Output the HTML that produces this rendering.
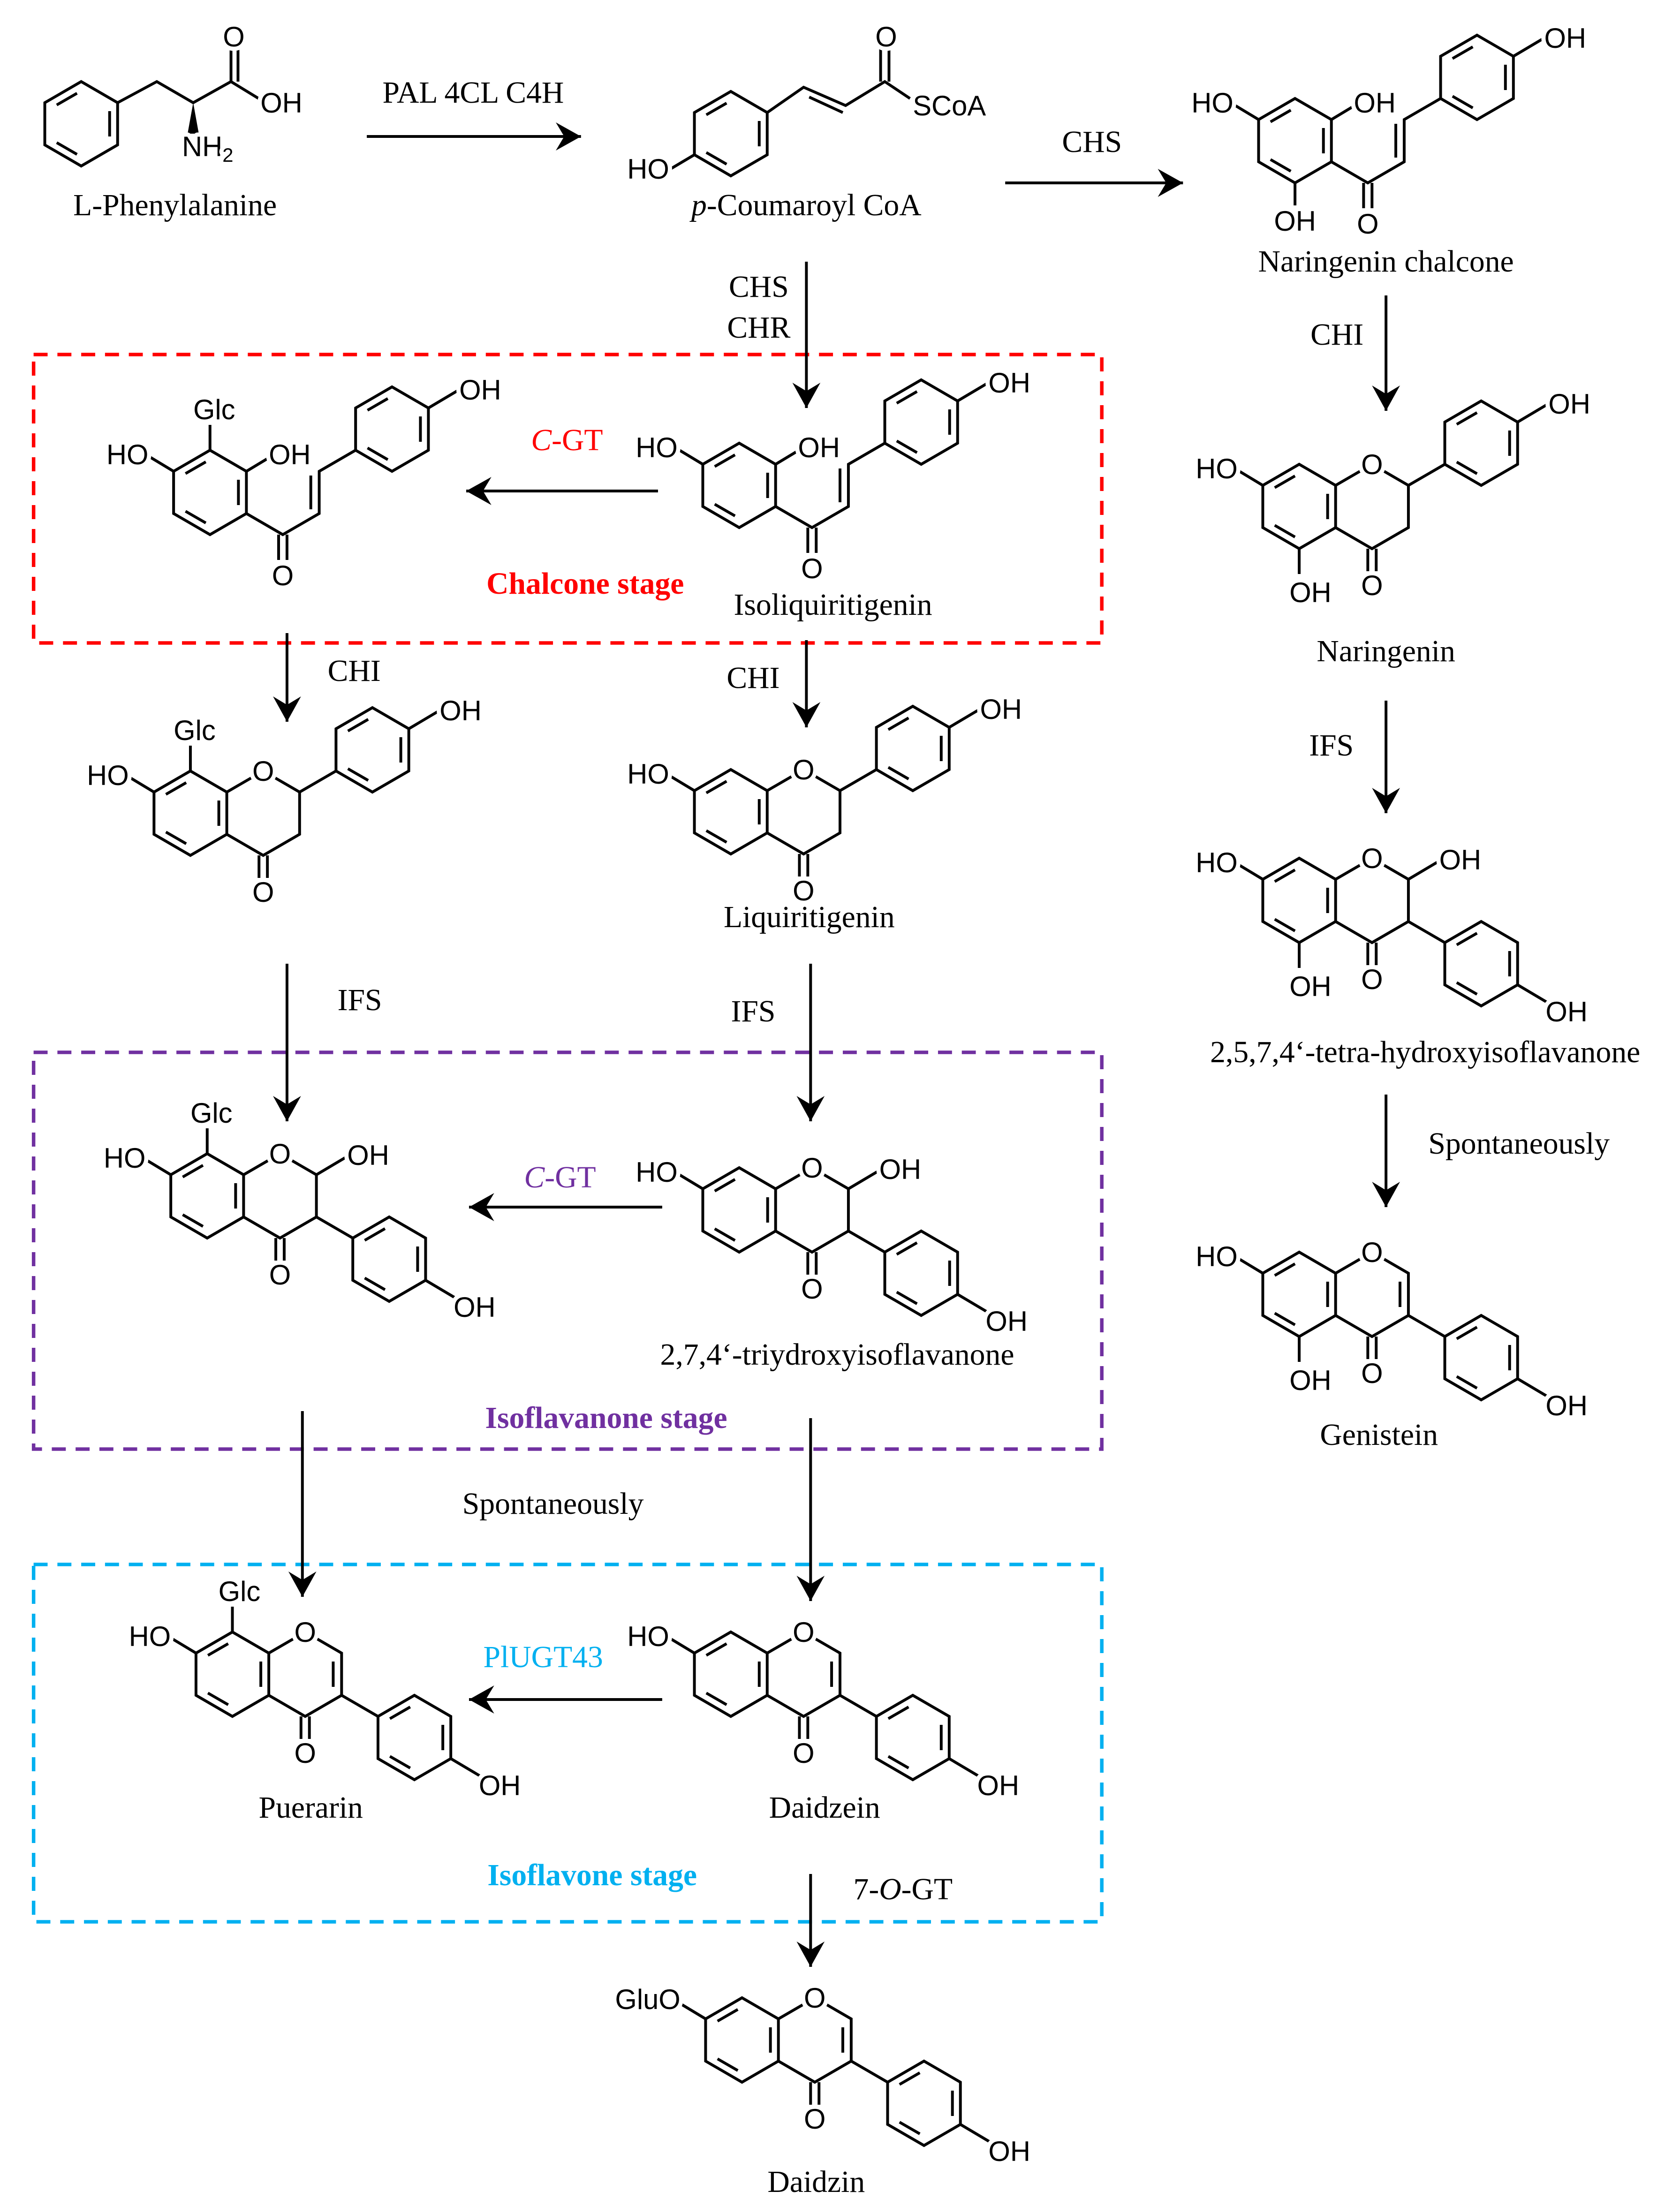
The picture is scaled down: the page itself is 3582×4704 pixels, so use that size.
<!DOCTYPE html>
<html><head><meta charset="utf-8"><style>
html,body{margin:0;padding:0;background:#fff}
svg{display:block}
.b{stroke:#000;stroke-width:2;fill:none}
.a{font-family:"Liberation Sans",sans-serif;font-size:20px;fill:#000;stroke:#fff;stroke-width:6px;paint-order:stroke;stroke-linejoin:round}
.n{font-family:"Liberation Serif",serif;font-size:22px;fill:#000}
.ar{stroke:#000;stroke-width:2;fill:none}
</style></head><body>
<svg width="3582" height="4704" viewBox="0 0 1200 1568" preserveAspectRatio="none" xmlns="http://www.w3.org/2000/svg">
<defs>
<marker id="m" markerUnits="userSpaceOnUse" markerWidth="24" markerHeight="24" refX="20" refY="12" orient="auto">
<path d="M2,2 L20,12 L2,22 L8,12 Z" fill="#000"/></marker>
<g id="benz">
<path class="b" d="M0,-30 L26,-15 L26,15 L0,30 L-26,15 L-26,-15Z"/>
<path class="b" d="M20.3,-9 L20.3,9 M-3,21.7 L-17.5,13.4 M-17.5,-13.4 L-3,-21.7"/>
</g>
<g id="AC">
<use href="#benz"/>
<path class="b" d="M26,-15 L52,-30 L78,-15 L78,15 L52,30 L26,15"/>
<path class="b" d="M49,30 L49,46 M55,30 L55,46"/>
<circle cx="52" cy="-30" r="10" fill="#fff"/>
<text class="a" x="52" y="-23" text-anchor="middle">O</text>
<text class="a" x="52" y="63" text-anchor="middle">O</text>
</g>
<g id="Bup">
<path class="b" d="M78,-15 L104,-30"/>
<use href="#benz" transform="translate(130,-45)"/>
<path class="b" d="M156,-60 L178,-73"/>
<text class="a" x="178" y="-66">OH</text>
</g>
<g id="Bdn">
<path class="b" d="M78,15 L104,30"/>
<use href="#benz" transform="translate(130,45)"/>
<path class="b" d="M156,60 L178,73"/>
<text class="a" x="176" y="86">OH</text>
</g>
<g id="HO"><path class="b" d="M-26,-15 L-46,-27"/></g>
<g id="Chal">
<use href="#benz"/>
<path class="b" d="M26,15 L52,30 L78,15 L78,-15 L104,-30"/>
<path class="b" d="M72,-12 L72,12"/>
<path class="b" d="M49,30 L49,48 M55,30 L55,48"/>
<use href="#benz" transform="translate(130,-45)"/>
<path class="b" d="M156,-60 L178,-73 M-26,-15 L-46,-27 M26,-15 L46,-27"/>
<text class="a" x="52" y="66" text-anchor="middle">O</text>
<text class="a" x="178" y="-66">OH</text>
<text class="a" x="-44" y="-20" text-anchor="end">HO</text>
<text class="a" x="42" y="-20">OH</text>
</g>
</defs>

<!-- boxes -->
<rect x="24" y="252" width="763" height="205" fill="none" stroke="#f00" stroke-width="2.5" stroke-dasharray="10,7"/>
<rect x="24" y="748" width="763" height="282" fill="none" stroke="#7030a0" stroke-width="2.5" stroke-dasharray="10,7"/>
<rect x="24" y="1112" width="763" height="254" fill="none" stroke="#00b0f0" stroke-width="2.5" stroke-dasharray="10,7"/>

<!-- L-Phe -->
<use href="#benz" x="58" y="88"/>
<path class="b" d="M84,73 L112,58 L138,73 L165,58 L188,72 M165,58 L165,35 M170,58 L170,35"/>
<path d="M138,73 L134,95 L142,95Z" fill="#000"/>
<text class="a" x="167" y="33" text-anchor="middle">O</text>
<text class="a" x="186" y="80">OH</text>
<text class="a" x="130" y="111">NH<tspan font-size="14" dy="4">2</tspan></text>
<text class="n" x="125" y="153" text-anchor="middle">L-Phenylalanine</text>

<!-- p-Coumaroyl -->
<use href="#benz" x="522" y="95"/>
<path class="b" d="M496,110 L474,123 M548,80 L574,62 L604,75 L632,58 L650,70 M578,69 L602,80 M629,58 L629,35 M635,58 L635,35"/>
<text class="a" x="633" y="33" text-anchor="middle">O</text>
<text class="a" x="652" y="82">SCoA</text>
<text class="a" x="478" y="127" text-anchor="end">HO</text>
<text class="n" x="576" y="153" text-anchor="middle"><tspan font-style="italic">p</tspan>-Coumaroyl CoA</text>

<!-- Naringenin chalcone -->
<g transform="translate(925,100)"><use href="#Chal"/><path class="b" d="M0,30 L0,46"/><text class="a" x="0" y="64" text-anchor="middle">OH</text></g>
<text class="n" x="990" y="193" text-anchor="middle">Naringenin chalcone</text>

<!-- Isoliquiritigenin -->
<g transform="translate(528,345)"><use href="#Chal"/></g>
<text class="n" x="595" y="437" text-anchor="middle">Isoliquiritigenin</text>

<!-- Chalcone Glc -->
<g transform="translate(150,350)"><use href="#Chal"/><path class="b" d="M0,-30 L0,-48"/><text class="a" x="3" y="-52" text-anchor="middle">Glc</text></g>
<text x="418" y="422" text-anchor="middle" font-family="Liberation Serif,serif" font-size="22" font-weight="bold" fill="#f00">Chalcone stage</text>

<!-- Glc flavanone -->
<g transform="translate(136,578)"><use href="#AC"/><use href="#Bup"/><use href="#HO"/>
<path class="b" d="M0,-30 L0,-48"/><text class="a" x="3" y="-52" text-anchor="middle">Glc</text>
<text class="a" x="-44" y="-20" text-anchor="end">HO</text></g>

<!-- Liquiritigenin -->
<g transform="translate(522,577)"><use href="#AC"/><use href="#Bup"/><use href="#HO"/>
<text class="a" x="-44" y="-20" text-anchor="end">HO</text></g>
<text class="n" x="578" y="659" text-anchor="middle">Liquiritigenin</text>

<!-- Naringenin -->
<g transform="translate(928,360)"><use href="#AC"/><use href="#Bup"/><use href="#HO"/>
<path class="b" d="M0,30 L0,48"/><text class="a" x="8" y="68" text-anchor="middle">OH</text>
<text class="a" x="-44" y="-20" text-anchor="end">HO</text></g>
<text class="n" x="990" y="470" text-anchor="middle">Naringenin</text>

<!-- Tetra -->
<g transform="translate(928,640)"><use href="#AC"/><use href="#Bdn"/><use href="#HO"/>
<path class="b" d="M0,30 L0,48 M78,-15 L100,-28"/><text class="a" x="8" y="68" text-anchor="middle">OH</text>
<text class="a" x="100" y="-22">OH</text>
<text class="a" x="-44" y="-20" text-anchor="end">HO</text></g>
<text class="n" x="1018" y="755" text-anchor="middle">2,5,7,4‘-tetra-hydroxyisoflavanone</text>

<!-- Genistein -->
<g transform="translate(928,920)"><use href="#AC"/><use href="#Bdn"/><use href="#HO"/>
<path class="b" d="M72,-9 L72,9 M0,30 L0,48"/><text class="a" x="8" y="68" text-anchor="middle">OH</text>
<text class="a" x="-44" y="-20" text-anchor="end">HO</text></g>
<text class="n" x="985" y="1027" text-anchor="middle">Genistein</text>

<!-- Glc isoflavanone -->
<g transform="translate(148,850)"><use href="#AC"/><use href="#Bdn"/><use href="#HO"/>
<path class="b" d="M0,-30 L0,-48 M78,-15 L100,-28"/><text class="a" x="3" y="-52" text-anchor="middle">Glc</text>
<text class="a" x="100" y="-22">OH</text>
<text class="a" x="-44" y="-20" text-anchor="end">HO</text></g>

<!-- Trihydroxy -->
<g transform="translate(528,860)"><use href="#AC"/><use href="#Bdn"/><use href="#HO"/>
<path class="b" d="M78,-15 L100,-28"/>
<text class="a" x="100" y="-22">OH</text>
<text class="a" x="-44" y="-20" text-anchor="end">HO</text></g>
<text class="n" x="598" y="970" text-anchor="middle">2,7,4‘-triydroxyisoflavanone</text>
<text x="433" y="1015" text-anchor="middle" font-family="Liberation Serif,serif" font-size="22" font-weight="bold" fill="#7030a0">Isoflavanone stage</text>

<!-- Puerarin -->
<g transform="translate(166,1190)"><use href="#AC"/><use href="#Bdn"/><use href="#HO"/>
<path class="b" d="M72,-9 L72,9 M0,-30 L0,-48"/><text class="a" x="5" y="-52" text-anchor="middle">Glc</text>
<text class="a" x="-44" y="-20" text-anchor="end">HO</text></g>
<text class="n" x="222" y="1292" text-anchor="middle">Puerarin</text>

<!-- Daidzein -->
<g transform="translate(522,1190)"><use href="#AC"/><use href="#Bdn"/><use href="#HO"/>
<path class="b" d="M72,-9 L72,9"/>
<text class="a" x="-44" y="-20" text-anchor="end">HO</text></g>
<text class="n" x="589" y="1292" text-anchor="middle">Daidzein</text>
<text x="423" y="1340" text-anchor="middle" font-family="Liberation Serif,serif" font-size="22" font-weight="bold" fill="#00b0f0">Isoflavone stage</text>

<!-- Daidzin -->
<g transform="translate(530,1450)"><use href="#AC"/><use href="#Bdn"/><use href="#HO"/>
<path class="b" d="M72,-9 L72,9"/>
<text class="a" x="-44" y="-22" text-anchor="end">GluO</text></g>
<text class="n" x="583" y="1558" text-anchor="middle">Daidzin</text>

<!-- arrows -->
<g class="ar" marker-end="url(#m)">
<line x1="262" y1="97" x2="415" y2="97"/>
<line x1="718" y1="130" x2="845" y2="130"/>
<line x1="576" y1="186" x2="576" y2="290"/>
<line x1="990" y1="210" x2="990" y2="292"/>
<line x1="470" y1="349" x2="333" y2="349"/>
<line x1="205" y1="450" x2="205" y2="513"/>
<line x1="576" y1="455" x2="576" y2="517"/>
<line x1="205" y1="685" x2="205" y2="797"/>
<line x1="579" y1="685" x2="579" y2="797"/>
<line x1="990" y1="498" x2="990" y2="578"/>
<line x1="990" y1="778" x2="990" y2="858"/>
<line x1="473" y1="858" x2="335" y2="858"/>
<line x1="216" y1="1003" x2="216" y2="1135"/>
<line x1="579" y1="1008" x2="579" y2="1138"/>
<line x1="473" y1="1208" x2="335" y2="1208"/>
<line x1="579" y1="1332" x2="579" y2="1398"/>
</g>
<text class="n" x="338" y="73" text-anchor="middle">PAL  4CL  C4H</text>
<text class="n" x="780" y="108" text-anchor="middle">CHS</text>
<text class="n" x="542" y="211" text-anchor="middle">CHS</text>
<text class="n" x="542" y="240" text-anchor="middle">CHR</text>
<text class="n" x="955" y="245" text-anchor="middle">CHI</text>
<text x="405" y="320" text-anchor="middle" font-family="Liberation Serif,serif" font-size="22" fill="#f00"><tspan font-style="italic">C</tspan>-GT</text>
<text class="n" x="253" y="484" text-anchor="middle">CHI</text>
<text class="n" x="538" y="489" text-anchor="middle">CHI</text>
<text class="n" x="257" y="718" text-anchor="middle">IFS</text>
<text class="n" x="538" y="726" text-anchor="middle">IFS</text>
<text class="n" x="951" y="537" text-anchor="middle">IFS</text>
<text class="n" x="1085" y="820" text-anchor="middle">Spontaneously</text>
<text x="400" y="844" text-anchor="middle" font-family="Liberation Serif,serif" font-size="22" fill="#7030a0"><tspan font-style="italic">C</tspan>-GT</text>
<text class="n" x="395" y="1076" text-anchor="middle">Spontaneously</text>
<text x="388" y="1185" text-anchor="middle" font-family="Liberation Serif,serif" font-size="22" fill="#00b0f0">PlUGT43</text>
<text class="n" x="645" y="1350" text-anchor="middle">7-<tspan font-style="italic">O</tspan>-GT</text>
</svg>
</body></html>
